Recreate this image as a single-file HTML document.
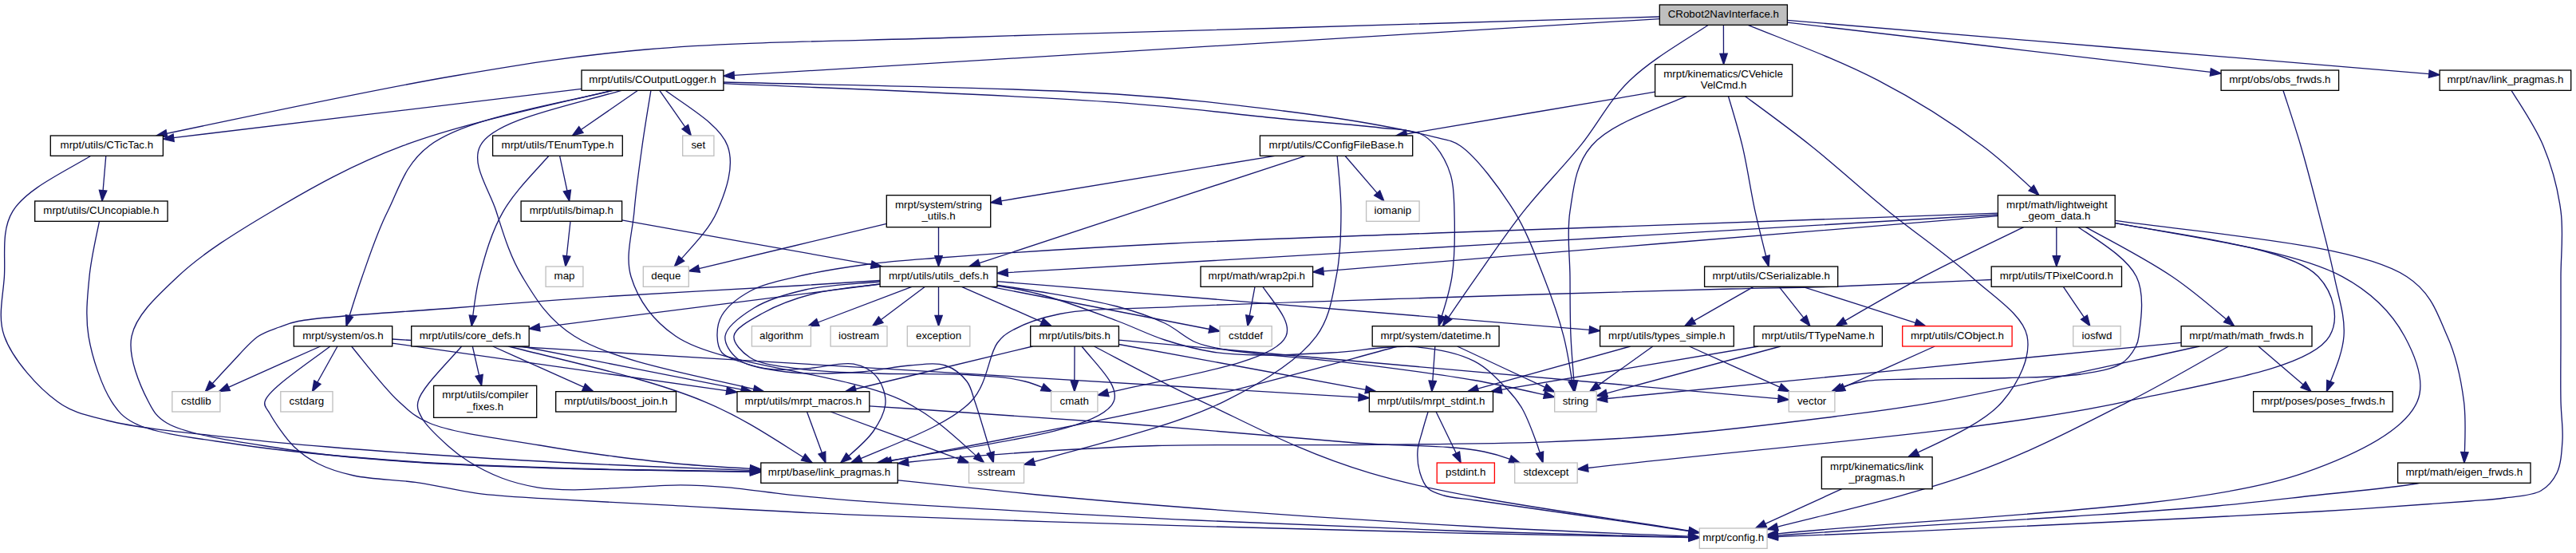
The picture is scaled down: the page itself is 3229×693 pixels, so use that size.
<!DOCTYPE html>
<html><head><meta charset="utf-8"><title>CRobot2NavInterface.h</title>
<style>html,body{margin:0;padding:0;background:#fff;}svg{display:block;}text{font-family:"Liberation Sans",sans-serif;font-size:13.333px;fill:#000;}</style></head><body>
<svg width="3229" height="693" viewBox="0 0 3229 693">
<rect x="0" y="0" width="3229" height="693" fill="#fff"/>
<path d="M2080.3,23.6C1693.6,47.2 1306.9,70.8 920.2,94.4" fill="none" stroke="#191970" stroke-width="1.33"/>
<polygon points="919.9,89.8 906.9,95.2 920.5,99.1" fill="#191970" stroke="#191970" stroke-width="1.33"/>
<path d="M2080.3,21.0C1920.7,25.8 1755.5,30.7 1610.0,35.0C1463.3,39.3 1334.9,42.4 1200.0,47.0C1068.4,51.5 924.1,52.0 810.0,62.0C720.1,69.9 661.6,79.5 570.0,95.0C466.8,112.4 334.2,141.3 208.9,167.3" fill="none" stroke="#191970" stroke-width="1.33"/>
<polygon points="208.0,162.7 195.9,170.0 209.9,171.9" fill="#191970" stroke="#191970" stroke-width="1.33"/>
<path d="M2160.4,31.3C2160.4,43.3 2160.5,55.4 2160.5,67.4" fill="none" stroke="#191970" stroke-width="1.33"/>
<polygon points="2155.9,67.4 2160.6,80.7 2165.2,67.3" fill="#191970" stroke="#191970" stroke-width="1.33"/>
<path d="M2141.5,31.3C2106.9,53.9 2069.3,75.4 2043.0,100.7C2016.6,126.1 2002.8,155.7 1981.0,182.7C1958.6,210.4 1932.0,236.8 1910.0,264.7C1888.8,291.5 1869.8,319.9 1851.0,346.7C1838.8,364.0 1827.3,380.8 1815.8,397.7" fill="none" stroke="#191970" stroke-width="1.33"/>
<polygon points="1812.0,395.0 1808.3,408.7 1819.7,400.3" fill="#191970" stroke="#191970" stroke-width="1.33"/>
<path d="M2191.1,31.3C2247.0,53.9 2305.7,75.5 2354.0,100.7C2403.1,126.2 2446.1,153.6 2485.0,182.7C2507.6,199.5 2526.9,217.5 2546.2,235.6" fill="none" stroke="#191970" stroke-width="1.33"/>
<polygon points="2543.0,239.0 2555.9,244.7 2549.3,232.1" fill="#191970" stroke="#191970" stroke-width="1.33"/>
<path d="M2240.4,25.4C2508.5,47.8 2776.7,70.2 3044.8,92.7" fill="none" stroke="#191970" stroke-width="1.33"/>
<polygon points="3044.4,97.3 3058.1,93.8 3045.2,88.0" fill="#191970" stroke="#191970" stroke-width="1.33"/>
<path d="M2240.4,28.1C2417.2,48.9 2594.1,69.7 2770.9,90.4" fill="none" stroke="#191970" stroke-width="1.33"/>
<polygon points="2770.3,95.1 2784.1,92.0 2771.4,85.8" fill="#191970" stroke="#191970" stroke-width="1.33"/>
<path d="M767.2,113.3C675.8,135.3 577.6,155.4 505.0,182.7C440.1,207.1 390.3,235.5 341.0,264.7C297.3,290.5 253.5,317.5 222.7,346.7C197.8,370.3 170.6,394.4 165.0,421.3C159.7,446.8 176.0,484.2 186.0,503.3C192.4,515.6 196.1,522.3 209.0,530.0C236.0,546.1 308.8,554.9 359.0,563.0C408.8,571.0 454.8,574.5 509.0,578.5C572.9,583.2 656.8,585.6 718.5,587.5C767.4,589.0 802.2,589.2 850.0,590.0C878.1,590.5 908.9,590.9 940.5,591.3" fill="none" stroke="#191970" stroke-width="1.33"/>
<polygon points="940.4,596.0 953.8,591.5 940.5,586.7" fill="#191970" stroke="#191970" stroke-width="1.33"/>
<path d="M779.1,113.3C708.3,133.9 618.9,150.5 602.0,182.7C589.8,205.9 613.4,237.6 622.0,264.7C630.8,292.3 639.1,321.2 654.7,346.7C671.2,373.7 686.0,399.8 720.0,421.3C766.9,451.1 860.4,468.1 944.9,487.6" fill="none" stroke="#191970" stroke-width="1.33"/>
<polygon points="943.8,492.2 957.8,490.7 945.9,483.1" fill="#191970" stroke="#191970" stroke-width="1.33"/>
<path d="M769.0,113.3C682.8,133.5 582.4,149.2 538.0,182.7C507.3,205.8 500.2,236.6 486.0,264.7C472.5,291.4 463.5,319.8 454.0,346.7C448.1,363.4 443.0,379.7 438.0,396.0" fill="none" stroke="#191970" stroke-width="1.33"/>
<polygon points="433.5,394.6 434.0,408.7 442.4,397.3" fill="#191970" stroke="#191970" stroke-width="1.33"/>
<path d="M906.9,104.7C1081.7,112.3 1276.2,119.4 1400.0,128.4C1487.2,134.8 1548.9,143.3 1609.0,149.0C1654.5,153.3 1697.5,156.2 1729.0,160.0C1749.6,162.5 1767.6,162.1 1780.0,167.5C1788.5,171.2 1793.3,175.8 1799.0,182.7C1806.5,191.8 1814.5,206.3 1818.5,219.6C1822.7,233.5 1822.5,247.4 1823.0,264.7C1823.7,288.0 1824.0,320.2 1820.0,346.7C1817.4,363.6 1812.4,379.8 1807.3,396.0" fill="none" stroke="#191970" stroke-width="1.33"/>
<polygon points="1802.8,394.6 1803.3,408.7 1811.7,397.3" fill="#191970" stroke="#191970" stroke-width="1.33"/>
<path d="M729.0,111.3C558.5,131.8 388.1,152.2 217.6,172.6" fill="none" stroke="#191970" stroke-width="1.33"/>
<polygon points="217.1,168.0 204.4,174.2 218.2,177.3" fill="#191970" stroke="#191970" stroke-width="1.33"/>
<path d="M799.6,113.3C775.8,129.7 752.0,146.1 728.3,162.5" fill="none" stroke="#191970" stroke-width="1.33"/>
<polygon points="725.7,158.6 717.3,170.0 731.0,166.3" fill="#191970" stroke="#191970" stroke-width="1.33"/>
<path d="M906.9,103.0C1081.7,107.2 1276.2,110.0 1400.0,118.0C1487.3,123.7 1549.0,131.5 1609.0,139.0C1654.6,144.7 1694.6,150.7 1729.0,157.0C1755.1,161.8 1779.0,166.6 1797.6,171.7C1810.7,175.3 1818.8,174.7 1830.5,182.7C1850.9,196.7 1880.2,236.1 1898.0,264.7C1914.3,291.0 1924.4,319.8 1935.0,346.7C1944.9,371.9 1953.4,395.6 1960.0,421.3C1964.7,439.5 1967.6,458.5 1970.6,477.5" fill="none" stroke="#191970" stroke-width="1.33"/>
<polygon points="1966.0,478.2 1972.8,490.7 1975.3,476.8" fill="#191970" stroke="#191970" stroke-width="1.33"/>
<path d="M826.8,113.3C837.5,128.6 848.1,143.8 858.8,159.1" fill="none" stroke="#191970" stroke-width="1.33"/>
<polygon points="855.0,161.8 866.4,170.0 862.6,156.4" fill="#191970" stroke="#191970" stroke-width="1.33"/>
<path d="M834.0,113.3C864.5,135.7 902.6,156.8 912.0,182.7C921.1,207.7 910.3,238.7 899.0,264.7C889.9,285.6 871.7,304.8 854.2,324.1" fill="none" stroke="#191970" stroke-width="1.33"/>
<polygon points="850.7,320.9 845.3,334.0 857.7,327.2" fill="#191970" stroke="#191970" stroke-width="1.33"/>
<path d="M815.9,113.3C812.2,136.4 808.2,159.5 805.0,182.7C801.2,210.0 797.3,237.3 795.0,264.7C792.7,292.0 783.2,321.3 791.0,346.7C799.3,373.8 815.8,399.9 847.0,421.3C902.7,459.7 1062.3,467.0 1134.0,503.3C1172.3,522.8 1196.9,547.4 1223.6,571.2" fill="none" stroke="#191970" stroke-width="1.33"/>
<polygon points="1220.5,574.7 1233.6,580.0 1226.6,567.7" fill="#191970" stroke="#191970" stroke-width="1.33"/>
<path d="M1125.3,601.8C1185.2,608.3 1245.2,614.8 1300.0,620.0C1371.0,626.7 1424.0,631.3 1500.0,637.0C1600.4,644.6 1735.7,653.6 1850.0,660.0C1940.7,665.0 2028.5,668.4 2117.0,672.2" fill="none" stroke="#191970" stroke-width="1.33"/>
<polygon points="2116.8,676.9 2130.3,672.8 2117.2,667.6" fill="#191970" stroke="#191970" stroke-width="1.33"/>
<path d="M1011.5,516.0C1017.8,533.2 1024.1,550.3 1030.4,567.5" fill="none" stroke="#191970" stroke-width="1.33"/>
<polygon points="1026.0,569.1 1034.9,580.0 1034.7,565.9" fill="#191970" stroke="#191970" stroke-width="1.33"/>
<path d="M1041.2,516.0C1094.9,535.8 1148.5,555.6 1202.2,575.4" fill="none" stroke="#191970" stroke-width="1.33"/>
<polygon points="1200.6,579.8 1214.7,580.0 1203.8,571.0" fill="#191970" stroke="#191970" stroke-width="1.33"/>
<path d="M1089.8,508.9C1195.5,515.8 1303.4,522.7 1400.0,530.0C1506.5,538.1 1614.6,548.6 1699.0,555.0C1760.9,559.7 1816.4,557.2 1860.0,566.0C1872.2,568.5 1882.7,571.7 1892.7,575.3" fill="none" stroke="#191970" stroke-width="1.33"/>
<polygon points="1891.0,579.6 1905.1,580.0 1894.3,570.9" fill="#191970" stroke="#191970" stroke-width="1.33"/>
<path d="M413.9,434.0C380.5,459.2 335.7,488.5 332.0,503.3C330.5,509.4 334.7,512.1 338.0,518.0C344.0,528.7 357.7,549.1 368.8,560.0C378.1,569.1 387.2,575.2 398.6,581.0C411.6,587.6 426.1,592.2 443.5,596.0C466.2,601.0 497.7,601.0 524.0,604.8C549.5,608.5 572.8,614.9 599.0,618.3C627.5,621.9 654.9,623.0 688.6,625.2C732.1,628.0 782.7,630.3 838.0,633.2C906.9,636.8 980.8,641.4 1070.0,645.2C1191.4,650.3 1364.0,655.4 1500.0,659.4C1622.7,663.0 1735.7,665.9 1850.0,668.5C1940.7,670.5 2028.5,672.0 2117.0,673.6" fill="none" stroke="#191970" stroke-width="1.33"/>
<polygon points="2116.9,678.3 2130.3,673.9 2117.1,669.0" fill="#191970" stroke="#191970" stroke-width="1.33"/>
<path d="M401.6,434.0C363.2,451.1 324.8,468.2 286.4,485.3" fill="none" stroke="#191970" stroke-width="1.33"/>
<polygon points="284.6,481.0 274.3,490.7 288.4,489.5" fill="#191970" stroke="#191970" stroke-width="1.33"/>
<path d="M423.0,434.0C414.6,449.0 406.3,464.0 397.9,479.0" fill="none" stroke="#191970" stroke-width="1.33"/>
<polygon points="393.8,476.7 391.4,490.7 402.0,481.3" fill="#191970" stroke="#191970" stroke-width="1.33"/>
<path d="M440.6,434.0C460.9,458.9 482.2,487.1 500.0,503.3C513.7,515.8 520.3,522.4 538.0,530.0C568.9,543.3 635.0,550.7 676.7,558.0C710.8,564.0 739.1,568.0 770.0,572.0C800.2,575.9 824.8,579.0 860.0,582.0C883.4,584.0 911.3,585.7 940.5,587.3" fill="none" stroke="#191970" stroke-width="1.33"/>
<polygon points="940.2,592.0 953.8,588.0 940.7,582.6" fill="#191970" stroke="#191970" stroke-width="1.33"/>
<path d="M491.7,425.0C895.5,449.3 1299.3,473.6 1703.1,497.9" fill="none" stroke="#191970" stroke-width="1.33"/>
<polygon points="1702.8,502.5 1716.4,498.7 1703.4,493.2" fill="#191970" stroke="#191970" stroke-width="1.33"/>
<path d="M491.7,430.1C631.4,450.0 771.1,469.8 910.8,489.7" fill="none" stroke="#191970" stroke-width="1.33"/>
<polygon points="910.1,494.3 924.0,491.5 911.5,485.1" fill="#191970" stroke="#191970" stroke-width="1.33"/>
<path d="M1790.1,516.0C1787.5,524.3 1785.0,532.7 1783.0,540.0C1780.6,549.1 1777.5,556.4 1777.0,565.0C1776.4,573.9 1777.5,584.5 1780.0,592.7C1782.2,599.9 1785.0,607.3 1790.0,612.0C1795.0,616.7 1802.0,618.6 1810.0,621.0C1820.9,624.2 1832.4,624.4 1850.0,627.0C1884.0,632.0 1956.4,642.2 2000.0,648.5C2033.8,653.4 2060.7,657.0 2090.0,661.5C2099.2,662.9 2108.2,664.3 2117.2,665.7" fill="none" stroke="#191970" stroke-width="1.33"/>
<polygon points="2116.4,670.3 2130.3,667.8 2117.9,661.1" fill="#191970" stroke="#191970" stroke-width="1.33"/>
<path d="M1800.1,516.0C1808.5,533.3 1816.9,550.7 1825.3,568.0" fill="none" stroke="#191970" stroke-width="1.33"/>
<polygon points="1821.1,570.0 1831.2,580.0 1829.5,566.0" fill="#191970" stroke="#191970" stroke-width="1.33"/>
<path d="M1752.2,434.0C1665.9,457.3 1583.4,481.1 1487.0,503.3C1374.8,529.2 1243.7,553.1 1117.2,577.5" fill="none" stroke="#191970" stroke-width="1.33"/>
<polygon points="1116.3,572.9 1104.1,580.0 1118.1,582.1" fill="#191970" stroke="#191970" stroke-width="1.33"/>
<path d="M1798.8,434.0C1797.8,448.5 1796.8,462.9 1795.8,477.4" fill="none" stroke="#191970" stroke-width="1.33"/>
<polygon points="1791.1,477.0 1794.8,490.7 1800.4,477.7" fill="#191970" stroke="#191970" stroke-width="1.33"/>
<path d="M1826.7,434.0C1863.4,451.1 1900.0,468.3 1936.7,485.4" fill="none" stroke="#191970" stroke-width="1.33"/>
<polygon points="1934.6,489.6 1948.7,491.1 1938.6,481.2" fill="#191970" stroke="#191970" stroke-width="1.33"/>
<path d="M114.0,195.3C76.9,217.3 32.5,237.5 16.0,264.7C1.1,289.2 7.1,319.9 5.4,346.7C3.8,372.1 -3.1,397.3 5.4,421.3C15.5,449.9 47.6,485.7 72.0,503.3C91.4,517.4 108.2,520.3 134.5,527.0C175.9,537.5 249.4,543.6 299.0,549.3C339.7,554.0 368.5,556.5 410.6,560.0C465.2,564.6 535.2,569.5 599.0,573.5C664.9,577.6 730.1,580.9 800.0,584.0C845.1,586.0 892.7,587.6 940.5,589.3" fill="none" stroke="#191970" stroke-width="1.33"/>
<polygon points="940.3,593.9 953.8,589.7 940.6,584.6" fill="#191970" stroke="#191970" stroke-width="1.33"/>
<path d="M132.8,195.3C131.5,209.8 130.3,224.3 129.1,238.7" fill="none" stroke="#191970" stroke-width="1.33"/>
<polygon points="124.4,238.3 128.0,252.0 133.8,239.1" fill="#191970" stroke="#191970" stroke-width="1.33"/>
<path d="M124.5,277.3C119.8,300.6 114.2,324.0 112.0,346.7C109.5,372.0 106.9,396.2 111.0,421.3C115.5,448.4 127.7,484.4 140.0,503.3C148.2,516.0 153.7,522.5 168.0,530.0C194.6,543.9 250.0,549.5 299.0,557.0C360.6,566.4 439.0,573.0 509.0,578.0C578.8,583.0 656.8,585.1 718.5,587.0C767.4,588.5 802.2,588.6 850.0,589.5C878.1,590.0 908.9,590.5 940.5,591.0" fill="none" stroke="#191970" stroke-width="1.33"/>
<polygon points="940.4,595.7 953.8,591.3 940.5,586.4" fill="#191970" stroke="#191970" stroke-width="1.33"/>
<path d="M688.0,195.3C667.7,218.1 645.0,240.3 631.0,264.7C616.0,290.8 608.0,319.6 601.0,346.7C596.8,363.1 594.8,379.3 592.8,395.5" fill="none" stroke="#191970" stroke-width="1.33"/>
<polygon points="588.2,394.9 591.2,408.7 597.5,396.0" fill="#191970" stroke="#191970" stroke-width="1.33"/>
<path d="M701.6,195.3C704.7,209.9 707.8,224.4 710.9,239.0" fill="none" stroke="#191970" stroke-width="1.33"/>
<polygon points="706.3,239.9 713.7,252.0 715.5,238.0" fill="#191970" stroke="#191970" stroke-width="1.33"/>
<path d="M578.7,434.0C556.7,458.9 527.6,487.1 524.0,503.3C522.1,511.9 525.0,516.7 529.0,524.0C535.0,535.1 552.3,550.4 563.0,560.0C571.4,567.5 577.6,572.2 587.0,578.0C598.7,585.3 614.3,593.5 628.8,599.0C643.2,604.5 658.6,608.3 673.7,610.8C688.5,613.2 702.5,613.6 718.5,613.8C736.9,614.0 757.0,612.3 778.0,611.4C801.6,610.4 829.4,607.8 853.0,607.8C874.1,607.8 891.8,609.0 912.8,610.8C936.4,612.8 962.0,617.1 987.6,619.8C1014.4,622.6 1031.8,624.5 1070.0,627.3C1157.2,633.8 1364.0,645.4 1500.0,652.0C1622.6,658.0 1735.7,662.2 1850.0,666.0C1940.7,669.0 2028.5,671.0 2117.0,673.2" fill="none" stroke="#191970" stroke-width="1.33"/>
<polygon points="2116.9,677.9 2130.3,673.6 2117.1,668.6" fill="#191970" stroke="#191970" stroke-width="1.33"/>
<path d="M592.3,434.0C595.1,446.1 597.9,458.2 600.6,470.4" fill="none" stroke="#191970" stroke-width="1.33"/>
<polygon points="596.1,471.4 603.6,483.3 605.2,469.3" fill="#191970" stroke="#191970" stroke-width="1.33"/>
<path d="M617.7,434.0C655.7,451.1 693.7,468.1 731.8,485.2" fill="none" stroke="#191970" stroke-width="1.33"/>
<polygon points="729.8,489.5 743.9,490.7 733.6,480.9" fill="#191970" stroke="#191970" stroke-width="1.33"/>
<path d="M653.9,434.0C745.7,452.0 837.6,470.1 929.4,488.1" fill="none" stroke="#191970" stroke-width="1.33"/>
<polygon points="928.4,492.7 942.4,490.7 930.2,483.5" fill="#191970" stroke="#191970" stroke-width="1.33"/>
<path d="M637.4,434.0C723.1,455.7 815.0,474.9 883.0,503.3C931.8,523.7 968.3,548.8 1006.9,573.0" fill="none" stroke="#191970" stroke-width="1.33"/>
<polygon points="1004.4,576.9 1018.2,580.0 1009.3,569.0" fill="#191970" stroke="#191970" stroke-width="1.33"/>
<path d="M779.6,275.9C883.8,294.5 988.1,313.1 1092.3,331.7" fill="none" stroke="#191970" stroke-width="1.33"/>
<polygon points="1091.5,336.3 1105.4,334.0 1093.1,327.1" fill="#191970" stroke="#191970" stroke-width="1.33"/>
<path d="M715.0,277.3C713.4,291.8 711.9,306.3 710.3,320.8" fill="none" stroke="#191970" stroke-width="1.33"/>
<polygon points="705.7,320.2 708.9,334.0 714.9,321.2" fill="#191970" stroke="#191970" stroke-width="1.33"/>
<path d="M1103.1,356.0C960.9,374.1 818.6,392.2 676.4,410.3" fill="none" stroke="#191970" stroke-width="1.33"/>
<polygon points="675.8,405.6 663.2,412.0 677.0,414.9" fill="#191970" stroke="#191970" stroke-width="1.33"/>
<path d="M1241.8,359.3C1333.2,377.0 1424.6,394.8 1515.9,412.5" fill="none" stroke="#191970" stroke-width="1.33"/>
<polygon points="1515.0,417.1 1529.0,415.0 1516.8,407.9" fill="#191970" stroke="#191970" stroke-width="1.33"/>
<path d="M1103.1,351.5C1069.8,353.6 1036.2,355.8 1000.0,358.0C928.4,362.3 844.2,366.2 770.0,371.0C700.5,375.5 634.6,380.7 568.0,386.0C502.7,391.2 407.5,395.9 374.0,402.5C362.0,404.9 358.1,407.0 350.0,410.0C341.4,413.2 332.7,415.4 324.0,421.3C312.7,429.0 301.9,442.6 290.0,455.0C282.4,462.9 274.4,471.8 266.2,480.8" fill="none" stroke="#191970" stroke-width="1.33"/>
<polygon points="262.8,477.6 257.3,490.7 269.7,483.9" fill="#191970" stroke="#191970" stroke-width="1.33"/>
<path d="M1103.1,356.0C1103.1,356.0 1103.0,356.0 1103.0,356.0C1076.2,359.6 1045.4,361.4 1020.0,368.0C997.2,373.9 974.6,382.1 957.0,392.0C942.3,400.3 921.4,410.8 920.0,421.0C918.8,429.6 929.9,441.4 940.0,448.0C953.7,457.0 977.3,458.7 1000.0,462.0C1028.9,466.2 1065.3,466.7 1100.0,468.0C1137.5,469.4 1183.3,467.7 1217.0,470.0C1242.8,471.7 1263.2,472.4 1285.0,478.0C1292.3,479.9 1299.4,482.5 1306.4,485.3" fill="none" stroke="#191970" stroke-width="1.33"/>
<polygon points="1304.5,489.6 1318.6,490.7 1308.3,481.0" fill="#191970" stroke="#191970" stroke-width="1.33"/>
<path d="M1143.1,359.3C1103.8,374.2 1064.5,389.1 1025.3,404.0" fill="none" stroke="#191970" stroke-width="1.33"/>
<polygon points="1023.6,399.6 1012.8,408.7 1027.0,408.3" fill="#191970" stroke="#191970" stroke-width="1.33"/>
<path d="M1159.5,359.3C1141.1,373.1 1122.6,386.9 1104.2,400.7" fill="none" stroke="#191970" stroke-width="1.33"/>
<polygon points="1101.4,396.9 1093.5,408.7 1107.0,404.4" fill="#191970" stroke="#191970" stroke-width="1.33"/>
<path d="M1103.1,353.0C1103.1,353.0 1103.0,353.0 1103.0,353.0C1073.8,355.8 1037.9,356.7 1010.0,363.0C986.0,368.4 962.6,375.1 945.0,386.0C930.0,395.3 910.8,409.2 909.0,421.0C907.6,430.6 915.8,442.8 925.0,450.0C937.7,459.9 962.5,463.1 985.0,466.0C1012.8,469.6 1052.0,467.9 1080.0,466.0C1102.3,464.5 1121.4,459.2 1140.0,458.0C1156.0,456.9 1172.5,453.9 1185.0,458.0C1195.8,461.6 1205.8,469.9 1212.0,478.0C1217.6,485.3 1218.6,493.6 1222.0,503.3C1226.5,516.0 1231.5,533.1 1236.0,548.0C1237.9,554.4 1239.8,560.8 1241.7,567.2" fill="none" stroke="#191970" stroke-width="1.33"/>
<polygon points="1237.2,568.5 1245.3,580.0 1246.1,565.9" fill="#191970" stroke="#191970" stroke-width="1.33"/>
<path d="M1176.5,359.3C1176.5,371.3 1176.5,383.4 1176.5,395.4" fill="none" stroke="#191970" stroke-width="1.33"/>
<polygon points="1171.9,395.3 1176.5,408.7 1181.2,395.3" fill="#191970" stroke="#191970" stroke-width="1.33"/>
<path d="M1249.9,358.0C1267.1,360.8 1284.0,363.9 1300.0,368.0C1335.5,377.0 1371.0,391.3 1400.0,402.0C1422.7,410.4 1439.8,419.5 1460.0,426.0C1479.8,432.4 1499.9,437.8 1520.0,441.0C1539.6,444.1 1557.3,444.6 1579.0,445.0C1605.8,445.5 1637.9,443.6 1669.0,442.0C1702.7,440.3 1742.2,432.0 1774.0,434.7C1801.0,437.0 1827.8,442.3 1848.0,452.6C1865.2,461.4 1879.4,477.3 1890.0,488.5C1897.8,496.7 1902.6,502.7 1908.0,512.0C1914.5,523.2 1920.0,538.5 1925.0,552.0C1926.9,557.1 1928.6,562.2 1930.2,567.3" fill="none" stroke="#191970" stroke-width="1.33"/>
<polygon points="1925.7,568.6 1934.1,580.0 1934.6,565.9" fill="#191970" stroke="#191970" stroke-width="1.33"/>
<path d="M1205.4,359.3C1238.9,374.0 1272.4,388.7 1305.9,403.3" fill="none" stroke="#191970" stroke-width="1.33"/>
<polygon points="1304.0,407.6 1318.1,408.7 1307.8,399.0" fill="#191970" stroke="#191970" stroke-width="1.33"/>
<path d="M1249.9,352.7C1497.4,372.9 1744.9,393.2 1992.3,413.4" fill="none" stroke="#191970" stroke-width="1.33"/>
<polygon points="1991.9,418.0 2005.6,414.5 1992.7,408.7" fill="#191970" stroke="#191970" stroke-width="1.33"/>
<path d="M1249.9,357.2C1267.0,359.7 1283.9,362.3 1300.0,365.0C1335.2,370.9 1371.1,376.3 1400.0,384.0C1422.8,390.1 1442.5,396.7 1460.0,405.0C1474.8,412.1 1485.8,423.5 1499.0,429.0C1510.9,434.0 1518.5,435.1 1535.0,438.0C1569.7,444.2 1645.7,449.0 1699.0,455.6C1749.9,461.9 1800.5,468.2 1848.0,476.5C1878.4,481.8 1907.0,488.3 1935.7,494.7" fill="none" stroke="#191970" stroke-width="1.33"/>
<polygon points="1934.7,499.3 1948.7,497.6 1936.7,490.2" fill="#191970" stroke="#191970" stroke-width="1.33"/>
<path d="M1294.5,434.0C1220.5,451.8 1146.4,469.7 1072.4,487.5" fill="none" stroke="#191970" stroke-width="1.33"/>
<polygon points="1071.3,483.0 1059.4,490.7 1073.5,492.1" fill="#191970" stroke="#191970" stroke-width="1.33"/>
<path d="M1356.0,434.0C1375.0,458.0 1404.2,483.6 1396.0,503.3C1380.5,540.6 1231.6,556.7 1112.8,577.7" fill="none" stroke="#191970" stroke-width="1.33"/>
<polygon points="1112.0,573.0 1099.7,580.0 1113.6,582.2" fill="#191970" stroke="#191970" stroke-width="1.33"/>
<path d="M1371.5,434.0C1415.7,457.2 1458.4,480.6 1507.0,503.3C1571.7,533.7 1631.9,567.3 1717.0,592.7C1823.8,624.5 1978.1,642.7 2117.2,665.2" fill="none" stroke="#191970" stroke-width="1.33"/>
<polygon points="2116.4,669.8 2130.3,667.4 2117.9,660.6" fill="#191970" stroke="#191970" stroke-width="1.33"/>
<path d="M1347.0,434.0C1347.0,448.5 1346.9,462.9 1346.8,477.4" fill="none" stroke="#191970" stroke-width="1.33"/>
<polygon points="1342.2,477.3 1346.8,490.7 1351.5,477.4" fill="#191970" stroke="#191970" stroke-width="1.33"/>
<path d="M1402.4,431.5C1505.5,450.4 1608.7,469.3 1711.8,488.3" fill="none" stroke="#191970" stroke-width="1.33"/>
<polygon points="1711.0,492.9 1724.9,490.7 1712.6,483.7" fill="#191970" stroke="#191970" stroke-width="1.33"/>
<path d="M1402.4,426.2C1678.0,450.7 1953.5,475.1 2229.1,499.6" fill="none" stroke="#191970" stroke-width="1.33"/>
<polygon points="2228.6,504.3 2242.3,500.8 2229.4,494.9" fill="#191970" stroke="#191970" stroke-width="1.33"/>
<path d="M2117.5,434.0C2155.3,451.1 2193.1,468.1 2230.9,485.2" fill="none" stroke="#191970" stroke-width="1.33"/>
<polygon points="2229.0,489.4 2243.0,490.7 2232.8,480.9" fill="#191970" stroke="#191970" stroke-width="1.33"/>
<path d="M2071.8,434.0C2049.0,450.3 2026.2,466.6 2003.4,482.9" fill="none" stroke="#191970" stroke-width="1.33"/>
<polygon points="2000.8,479.1 1992.6,490.7 2006.2,486.7" fill="#191970" stroke="#191970" stroke-width="1.33"/>
<path d="M2043.8,434.0C1980.0,451.7 1916.2,469.4 1852.4,487.1" fill="none" stroke="#191970" stroke-width="1.33"/>
<polygon points="1851.2,482.6 1839.6,490.7 1853.7,491.6" fill="#191970" stroke="#191970" stroke-width="1.33"/>
<path d="M2166.5,120.7C2172.7,141.3 2179.0,161.9 2184.0,182.7C2190.5,209.9 2194.0,237.4 2200.0,264.7C2204.2,283.5 2209.0,302.3 2213.7,321.1" fill="none" stroke="#191970" stroke-width="1.33"/>
<polygon points="2209.2,322.2 2217.0,334.0 2218.2,319.9" fill="#191970" stroke="#191970" stroke-width="1.33"/>
<path d="M2074.6,115.2C1970.8,132.7 1867.0,150.3 1763.2,167.8" fill="none" stroke="#191970" stroke-width="1.33"/>
<polygon points="1762.4,163.2 1750.1,170.0 1764.0,172.4" fill="#191970" stroke="#191970" stroke-width="1.33"/>
<path d="M2187.6,120.7C2215.5,141.2 2243.6,161.6 2270.0,182.7C2303.7,209.5 2333.9,237.6 2367.0,264.7C2400.8,292.3 2440.7,318.8 2471.0,346.7C2497.7,371.2 2535.6,394.0 2541.0,421.3C2546.0,446.6 2531.1,478.7 2510.0,503.3C2488.8,528.1 2445.8,547.4 2403.9,567.0" fill="none" stroke="#191970" stroke-width="1.33"/>
<polygon points="2402.0,562.8 2391.9,572.7 2406.0,571.2" fill="#191970" stroke="#191970" stroke-width="1.33"/>
<path d="M2114.3,120.7C2067.5,139.2 2017.5,156.8 1995.0,182.7C1974.3,206.5 1972.4,237.0 1968.0,264.7C1963.7,291.7 1967.8,320.0 1968.0,346.7C1968.2,372.1 1967.9,395.9 1969.0,421.3C1969.8,439.6 1971.4,458.5 1972.9,477.4" fill="none" stroke="#191970" stroke-width="1.33"/>
<polygon points="1968.3,477.8 1974.0,490.7 1977.6,477.0" fill="#191970" stroke="#191970" stroke-width="1.33"/>
<path d="M2259.7,359.3C2306.9,374.4 2354.0,389.5 2401.2,404.6" fill="none" stroke="#191970" stroke-width="1.33"/>
<polygon points="2399.7,409.1 2413.8,408.7 2402.6,400.2" fill="#191970" stroke="#191970" stroke-width="1.33"/>
<path d="M2230.1,359.3C2240.4,372.3 2250.6,385.3 2260.8,398.2" fill="none" stroke="#191970" stroke-width="1.33"/>
<polygon points="2257.1,401.1 2269.0,408.7 2264.4,395.3" fill="#191970" stroke="#191970" stroke-width="1.33"/>
<path d="M2198.0,359.3C2173.0,373.6 2148.1,387.8 2123.2,402.1" fill="none" stroke="#191970" stroke-width="1.33"/>
<polygon points="2120.9,398.0 2111.6,408.7 2125.5,406.1" fill="#191970" stroke="#191970" stroke-width="1.33"/>
<path d="M2425.2,434.0C2387.3,451.1 2349.3,468.1 2311.4,485.2" fill="none" stroke="#191970" stroke-width="1.33"/>
<polygon points="2309.5,480.9 2299.3,490.7 2313.3,489.5" fill="#191970" stroke="#191970" stroke-width="1.33"/>
<path d="M2204.1,434.0C2096.7,452.1 1989.4,470.3 1882.0,488.4" fill="none" stroke="#191970" stroke-width="1.33"/>
<polygon points="1881.2,483.8 1868.9,490.7 1882.8,493.0" fill="#191970" stroke="#191970" stroke-width="1.33"/>
<path d="M2232.0,434.0C2159.4,453.6 2086.7,473.2 2014.0,492.8" fill="none" stroke="#191970" stroke-width="1.33"/>
<polygon points="2012.9,488.3 2001.2,496.3 2015.3,497.3" fill="#191970" stroke="#191970" stroke-width="1.33"/>
<path d="M1636.4,195.3C1565.9,218.4 1495.4,241.5 1425.0,264.7C1359.1,286.4 1293.3,308.1 1227.5,329.8" fill="none" stroke="#191970" stroke-width="1.33"/>
<polygon points="1226.1,325.4 1214.9,334.0 1229.0,334.3" fill="#191970" stroke="#191970" stroke-width="1.33"/>
<path d="M1598.0,195.3C1483.6,214.2 1369.2,233.0 1254.8,251.8" fill="none" stroke="#191970" stroke-width="1.33"/>
<polygon points="1254.1,247.2 1241.7,253.9 1255.6,256.4" fill="#191970" stroke="#191970" stroke-width="1.33"/>
<path d="M1676.1,195.3C1678.2,218.4 1681.0,241.6 1681.0,264.7C1681.0,292.0 1680.3,320.3 1675.0,346.7C1669.8,372.5 1667.1,398.4 1650.0,421.3C1627.1,452.2 1583.6,478.8 1534.0,503.3C1473.6,533.2 1380.7,554.9 1296.3,578.7" fill="none" stroke="#191970" stroke-width="1.33"/>
<polygon points="1295.0,574.2 1283.5,582.3 1297.6,583.2" fill="#191970" stroke="#191970" stroke-width="1.33"/>
<path d="M1686.0,195.3C1699.4,210.9 1712.8,226.4 1726.2,241.9" fill="none" stroke="#191970" stroke-width="1.33"/>
<polygon points="1722.7,245.0 1734.9,252.0 1729.7,238.9" fill="#191970" stroke="#191970" stroke-width="1.33"/>
<path d="M1176.5,284.7C1176.5,296.7 1176.5,308.7 1176.5,320.7" fill="none" stroke="#191970" stroke-width="1.33"/>
<polygon points="1171.8,320.7 1176.5,334.0 1181.2,320.7" fill="#191970" stroke="#191970" stroke-width="1.33"/>
<path d="M1111.3,280.3C1032.9,299.1 954.6,317.9 876.2,336.7" fill="none" stroke="#191970" stroke-width="1.33"/>
<polygon points="875.2,332.2 863.3,339.8 877.4,341.3" fill="#191970" stroke="#191970" stroke-width="1.33"/>
<path d="M2308.8,612.7C2276.8,627.3 2244.7,641.9 2212.6,656.5" fill="none" stroke="#191970" stroke-width="1.33"/>
<polygon points="2210.7,652.2 2200.5,662.0 2214.6,660.7" fill="#191970" stroke="#191970" stroke-width="1.33"/>
<path d="M2651.2,279.4C2757.8,298.8 2877.0,314.9 2936.0,346.7C2975.6,368.0 2998.6,393.2 3014.0,421.3C3027.5,446.1 3040.7,478.6 3030.0,503.3C3014.8,538.4 2957.4,568.3 2888.0,592.7C2755.1,639.3 2460.5,646.4 2228.3,668.8" fill="none" stroke="#191970" stroke-width="1.33"/>
<polygon points="2227.9,664.2 2215.1,670.1 2228.8,673.5" fill="#191970" stroke="#191970" stroke-width="1.33"/>
<path d="M2504.4,267.2C2261.2,275.7 1985.6,285.1 1800.0,292.0C1666.8,297.0 1576.6,299.6 1470.0,305.0C1369.7,310.1 1247.2,317.8 1178.0,323.0C1139.7,325.9 1118.7,327.1 1089.0,331.0C1059.0,335.0 1025.7,340.3 999.0,346.7C977.1,352.0 956.4,356.0 940.0,365.0C925.9,372.8 911.5,384.2 905.0,395.0C900.0,403.2 898.8,412.8 899.0,421.0C899.2,428.4 900.6,436.7 905.0,442.0C909.7,447.6 918.3,449.8 927.0,453.0C938.6,457.2 954.7,461.5 969.0,463.0C983.6,464.5 998.2,462.6 1014.0,461.6C1031.7,460.5 1054.9,453.3 1070.0,456.2C1081.2,458.4 1091.0,463.1 1097.6,470.6C1104.6,478.5 1110.1,492.1 1110.0,503.3C1109.8,515.2 1103.5,527.6 1095.0,540.0C1088.0,550.3 1076.1,560.8 1063.8,571.4" fill="none" stroke="#191970" stroke-width="1.33"/>
<polygon points="1060.8,567.8 1053.7,580.0 1066.9,574.9" fill="#191970" stroke="#191970" stroke-width="1.33"/>
<path d="M2504.4,269.0C2090.7,293.2 1676.9,317.4 1263.2,341.6" fill="none" stroke="#191970" stroke-width="1.33"/>
<polygon points="1262.9,336.9 1249.9,342.4 1263.5,346.3" fill="#191970" stroke="#191970" stroke-width="1.33"/>
<path d="M2577.8,284.7C2577.8,296.7 2577.8,308.7 2577.8,320.7" fill="none" stroke="#191970" stroke-width="1.33"/>
<polygon points="2573.2,320.7 2577.8,334.0 2582.5,320.7" fill="#191970" stroke="#191970" stroke-width="1.33"/>
<path d="M2536.6,284.7C2493.7,305.3 2450.3,325.9 2411.0,346.7C2376.2,365.1 2344.6,383.5 2312.7,402.0" fill="none" stroke="#191970" stroke-width="1.33"/>
<polygon points="2310.4,398.0 2301.2,408.7 2315.0,406.0" fill="#191970" stroke="#191970" stroke-width="1.33"/>
<path d="M2614.4,284.7C2652.3,305.0 2691.3,325.2 2723.0,346.7C2748.5,363.9 2769.3,382.0 2790.5,400.1" fill="none" stroke="#191970" stroke-width="1.33"/>
<polygon points="2787.5,403.6 2800.7,408.7 2793.5,396.5" fill="#191970" stroke="#191970" stroke-width="1.33"/>
<path d="M2651.2,276.3C2789.9,295.4 2956.9,307.3 3017.0,346.7C3049.0,367.6 3055.6,394.8 3067.6,421.3C3079.2,447.1 3084.9,475.2 3088.5,503.3C3091.1,523.9 3090.1,545.3 3089.4,566.7" fill="none" stroke="#191970" stroke-width="1.33"/>
<polygon points="3084.7,566.5 3088.9,580.0 3094.0,566.8" fill="#191970" stroke="#191970" stroke-width="1.33"/>
<path d="M2504.4,270.7C2222.6,293.7 1940.7,316.8 1658.9,339.8" fill="none" stroke="#191970" stroke-width="1.33"/>
<polygon points="1658.5,335.2 1645.6,340.9 1659.3,344.5" fill="#191970" stroke="#191970" stroke-width="1.33"/>
<path d="M2605.3,284.7C2634.7,304.5 2666.6,323.9 2678.0,346.7C2689.5,369.8 2682.8,406.6 2681.0,421.3C2680.2,427.7 2679.6,430.0 2677.0,434.7C2673.4,441.3 2667.6,450.2 2659.0,455.6C2647.1,463.1 2627.6,466.0 2608.0,469.0C2582.5,472.9 2550.5,472.5 2518.5,473.5C2481.6,474.7 2432.0,474.1 2399.0,475.0C2375.6,475.6 2355.5,475.1 2339.0,477.5C2327.2,479.2 2319.4,481.2 2309.0,485.0C2308.7,485.1 2308.4,485.2 2308.1,485.3" fill="none" stroke="#191970" stroke-width="1.33"/>
<polygon points="2306.3,481.0 2295.9,490.7 2310.0,489.6" fill="#191970" stroke="#191970" stroke-width="1.33"/>
<path d="M2651.2,279.7C2753.6,297.6 2872.7,311.3 2906.0,346.7C2925.8,367.7 2932.7,400.0 2920.0,421.3C2896.1,461.4 2772.5,479.5 2664.0,503.3C2497.7,539.9 2222.7,559.9 1990.4,586.5" fill="none" stroke="#191970" stroke-width="1.33"/>
<polygon points="1989.9,581.8 1977.2,588.0 1991.0,591.1" fill="#191970" stroke="#191970" stroke-width="1.33"/>
<path d="M2586.4,359.3C2595.1,372.1 2603.7,384.9 2612.4,397.7" fill="none" stroke="#191970" stroke-width="1.33"/>
<polygon points="2608.5,400.3 2619.9,408.7 2616.3,395.0" fill="#191970" stroke="#191970" stroke-width="1.33"/>
<path d="M2496.2,350.5C2427.0,353.8 2356.6,357.2 2303.0,359.0C2250.7,360.8 2225.4,360.6 2170.0,362.0C2077.5,364.4 1919.8,369.1 1800.0,373.0C1686.8,376.7 1557.1,380.3 1470.0,384.6C1412.8,387.4 1364.9,386.0 1328.0,393.5C1303.3,398.5 1281.7,406.6 1268.0,414.5C1259.6,419.3 1256.0,422.0 1250.0,430.0C1239.0,444.8 1238.4,481.0 1217.0,503.3C1190.4,531.1 1131.6,552.3 1078.9,574.7" fill="none" stroke="#191970" stroke-width="1.33"/>
<polygon points="1077.0,570.4 1066.6,580.0 1080.7,579.0" fill="#191970" stroke="#191970" stroke-width="1.33"/>
<path d="M2793.5,434.0C2752.5,457.2 2713.0,480.5 2668.0,503.3C2608.2,533.6 2547.0,566.1 2474.0,592.7C2401.7,619.0 2312.9,638.9 2228.0,660.3" fill="none" stroke="#191970" stroke-width="1.33"/>
<polygon points="2226.9,655.7 2215.1,663.5 2229.2,664.8" fill="#191970" stroke="#191970" stroke-width="1.33"/>
<path d="M2757.1,434.0C2640.3,459.3 2509.7,488.9 2429.0,503.3C2374.7,513.0 2347.7,515.9 2300.0,522.0C2240.7,529.6 2163.2,539.1 2100.0,544.5C2043.2,549.3 1997.2,551.6 1938.0,553.8C1866.3,556.4 1780.3,556.7 1700.0,557.5C1617.7,558.3 1522.7,556.5 1450.0,558.5C1393.6,560.0 1350.8,562.7 1300.0,566.0C1247.5,569.4 1187.1,573.9 1140.0,579.0C1139.5,579.1 1139.0,579.1 1138.5,579.2" fill="none" stroke="#191970" stroke-width="1.33"/>
<polygon points="1138.0,574.5 1125.3,580.7 1139.1,583.8" fill="#191970" stroke="#191970" stroke-width="1.33"/>
<path d="M2830.9,434.0C2849.6,450.0 2868.3,466.0 2887.0,482.0" fill="none" stroke="#191970" stroke-width="1.33"/>
<polygon points="2884.0,485.6 2897.1,490.7 2890.0,478.5" fill="#191970" stroke="#191970" stroke-width="1.33"/>
<path d="M2734.1,429.3C2494.2,452.7 2254.3,476.1 2014.4,499.5" fill="none" stroke="#191970" stroke-width="1.33"/>
<polygon points="2014.0,494.8 2001.2,500.8 2014.9,504.1" fill="#191970" stroke="#191970" stroke-width="1.33"/>
<path d="M1573.0,359.3C1570.8,371.4 1568.5,383.5 1566.3,395.6" fill="none" stroke="#191970" stroke-width="1.33"/>
<polygon points="1561.7,394.7 1563.9,408.7 1570.9,396.4" fill="#191970" stroke="#191970" stroke-width="1.33"/>
<path d="M1582.9,359.3C1597.6,380.8 1619.7,403.5 1612.0,421.3C1597.6,454.8 1478.3,471.0 1388.8,492.1" fill="none" stroke="#191970" stroke-width="1.33"/>
<polygon points="1387.7,487.6 1375.9,495.3 1390.0,496.7" fill="#191970" stroke="#191970" stroke-width="1.33"/>
<path d="M3033.5,605.3C3032.3,605.6 3031.0,605.8 3029.7,606.0C2995.0,611.9 2942.4,616.3 2900.0,621.0C2859.2,625.6 2823.8,630.0 2779.7,634.0C2725.8,638.9 2661.5,642.9 2600.0,647.0C2535.1,651.4 2468.8,655.0 2400.0,659.4C2344.5,663.0 2286.3,667.0 2228.4,670.9" fill="none" stroke="#191970" stroke-width="1.33"/>
<polygon points="2228.1,666.2 2215.1,671.8 2228.7,675.6" fill="#191970" stroke="#191970" stroke-width="1.33"/>
<path d="M3148.0,113.3C3162.3,136.3 3178.1,158.9 3188.0,182.7C3199.1,209.3 3206.4,237.1 3210.0,264.7C3213.6,291.8 3210.0,320.0 3210.0,346.7C3210.0,372.1 3210.0,395.9 3210.0,421.3C3210.0,448.0 3209.5,479.5 3210.0,503.3C3210.4,521.7 3213.0,536.6 3212.0,552.0C3211.1,566.2 3210.3,581.7 3205.0,592.7C3200.5,602.0 3194.1,609.8 3185.0,615.0C3173.7,621.4 3155.0,621.8 3140.0,624.0C3125.3,626.1 3115.8,626.4 3096.0,628.0C3054.9,631.3 2974.1,636.9 2906.0,641.0C2827.0,645.7 2734.8,649.9 2650.0,654.0C2566.2,658.1 2481.4,662.2 2400.0,665.7C2341.5,668.2 2285.1,670.3 2228.4,672.5" fill="none" stroke="#191970" stroke-width="1.33"/>
<polygon points="2228.2,667.8 2215.1,673.0 2228.6,677.2" fill="#191970" stroke="#191970" stroke-width="1.33"/>
<path d="M2861.9,113.3C2869.4,136.4 2877.2,159.5 2884.0,182.7C2892.0,209.9 2899.0,237.3 2906.0,264.7C2913.0,292.0 2920.6,319.9 2926.0,346.7C2931.1,372.0 2939.9,396.1 2938.0,421.3C2936.6,440.1 2928.8,459.2 2921.2,478.3" fill="none" stroke="#191970" stroke-width="1.33"/>
<polygon points="2916.8,476.5 2916.4,490.7 2925.5,479.9" fill="#191970" stroke="#191970" stroke-width="1.33"/>
<rect x="2080.30" y="6.00" width="160.10" height="25.33" fill="#bfbfbf" stroke="#000" stroke-width="1.33"/>
<text text-anchor="middle" x="2160.35" y="22.00">CRobot2NavInterface.h</text>
<rect x="729.00" y="88.00" width="177.90" height="25.33" fill="#fff" stroke="#000" stroke-width="1.33"/>
<text text-anchor="middle" x="817.95" y="104.00">mrpt/utils/COutputLogger.h</text>
<rect x="2074.60" y="80.67" width="172.10" height="40.00" fill="#fff" stroke="#000" stroke-width="1.33"/>
<text x="2085.27" y="96.67">mrpt/kinematics/CVehicle</text>
<text text-anchor="middle" x="2160.65" y="111.34">VelCmd.h</text>
<rect x="2784.10" y="88.00" width="147.50" height="25.33" fill="#fff" stroke="#000" stroke-width="1.33"/>
<text text-anchor="middle" x="2857.85" y="104.00">mrpt/obs/obs_frwds.h</text>
<rect x="3058.10" y="88.00" width="164.60" height="25.33" fill="#fff" stroke="#000" stroke-width="1.33"/>
<text text-anchor="middle" x="3140.40" y="104.00">mrpt/nav/link_pragmas.h</text>
<rect x="63.30" y="170.00" width="141.10" height="25.33" fill="#fff" stroke="#000" stroke-width="1.33"/>
<text text-anchor="middle" x="133.85" y="186.00">mrpt/utils/CTicTac.h</text>
<rect x="617.60" y="170.00" width="162.70" height="25.33" fill="#fff" stroke="#000" stroke-width="1.33"/>
<text text-anchor="middle" x="698.95" y="186.00">mrpt/utils/TEnumType.h</text>
<rect x="855.70" y="170.00" width="39.20" height="25.33" fill="#fff" stroke="#bfbfbf" stroke-width="1.33"/>
<text text-anchor="middle" x="875.30" y="186.00">set</text>
<rect x="1579.40" y="170.00" width="191.30" height="25.33" fill="#fff" stroke="#000" stroke-width="1.33"/>
<text text-anchor="middle" x="1675.05" y="186.00">mrpt/utils/CConfigFileBase.h</text>
<rect x="43.70" y="252.00" width="166.40" height="25.33" fill="#fff" stroke="#000" stroke-width="1.33"/>
<text text-anchor="middle" x="126.90" y="268.00">mrpt/utils/CUncopiable.h</text>
<rect x="653.10" y="252.00" width="126.50" height="25.33" fill="#fff" stroke="#000" stroke-width="1.33"/>
<text text-anchor="middle" x="716.35" y="268.00">mrpt/utils/bimap.h</text>
<rect x="1111.30" y="244.67" width="130.40" height="40.00" fill="#fff" stroke="#000" stroke-width="1.33"/>
<text x="1121.97" y="260.67">mrpt/system/string</text>
<text text-anchor="middle" x="1176.50" y="275.34">_utils.h</text>
<rect x="1712.60" y="252.00" width="66.50" height="25.33" fill="#fff" stroke="#bfbfbf" stroke-width="1.33"/>
<text text-anchor="middle" x="1745.85" y="268.00">iomanip</text>
<rect x="2504.40" y="244.67" width="146.80" height="40.00" fill="#fff" stroke="#000" stroke-width="1.33"/>
<text x="2515.07" y="260.67">mrpt/math/lightweight</text>
<text text-anchor="middle" x="2577.80" y="275.34">_geom_data.h</text>
<rect x="684.10" y="334.00" width="46.80" height="25.33" fill="#fff" stroke="#bfbfbf" stroke-width="1.33"/>
<text text-anchor="middle" x="707.50" y="350.00">map</text>
<rect x="806.30" y="334.00" width="57.00" height="25.33" fill="#fff" stroke="#bfbfbf" stroke-width="1.33"/>
<text text-anchor="middle" x="834.80" y="350.00">deque</text>
<rect x="1103.10" y="334.00" width="146.80" height="25.33" fill="#fff" stroke="#000" stroke-width="1.33"/>
<text text-anchor="middle" x="1176.50" y="350.00">mrpt/utils/utils_defs.h</text>
<rect x="1505.00" y="334.00" width="140.60" height="25.33" fill="#fff" stroke="#000" stroke-width="1.33"/>
<text text-anchor="middle" x="1575.30" y="350.00">mrpt/math/wrap2pi.h</text>
<rect x="2136.60" y="334.00" width="167.10" height="25.33" fill="#fff" stroke="#000" stroke-width="1.33"/>
<text text-anchor="middle" x="2220.15" y="350.00">mrpt/utils/CSerializable.h</text>
<rect x="2496.20" y="334.00" width="163.30" height="25.33" fill="#fff" stroke="#000" stroke-width="1.33"/>
<text text-anchor="middle" x="2577.85" y="350.00">mrpt/utils/TPixelCoord.h</text>
<rect x="368.30" y="408.67" width="123.40" height="25.33" fill="#fff" stroke="#000" stroke-width="1.33"/>
<text text-anchor="middle" x="430.00" y="424.66">mrpt/system/os.h</text>
<rect x="515.70" y="408.67" width="147.50" height="25.33" fill="#fff" stroke="#000" stroke-width="1.33"/>
<text text-anchor="middle" x="589.45" y="424.66">mrpt/utils/core_defs.h</text>
<rect x="942.40" y="408.67" width="74.00" height="25.33" fill="#fff" stroke="#bfbfbf" stroke-width="1.33"/>
<text text-anchor="middle" x="979.40" y="424.66">algorithm</text>
<rect x="1041.10" y="408.67" width="70.90" height="25.33" fill="#fff" stroke="#bfbfbf" stroke-width="1.33"/>
<text text-anchor="middle" x="1076.55" y="424.66">iostream</text>
<rect x="1137.30" y="408.67" width="78.50" height="25.33" fill="#fff" stroke="#bfbfbf" stroke-width="1.33"/>
<text text-anchor="middle" x="1176.55" y="424.66">exception</text>
<rect x="1291.70" y="408.67" width="110.70" height="25.33" fill="#fff" stroke="#000" stroke-width="1.33"/>
<text text-anchor="middle" x="1347.05" y="424.66">mrpt/utils/bits.h</text>
<rect x="1529.00" y="408.67" width="65.20" height="25.33" fill="#fff" stroke="#bfbfbf" stroke-width="1.33"/>
<text text-anchor="middle" x="1561.60" y="424.66">cstddef</text>
<rect x="1720.20" y="408.67" width="158.90" height="25.33" fill="#fff" stroke="#000" stroke-width="1.33"/>
<text text-anchor="middle" x="1799.65" y="424.66">mrpt/system/datetime.h</text>
<rect x="2005.60" y="408.67" width="167.70" height="25.33" fill="#fff" stroke="#000" stroke-width="1.33"/>
<text text-anchor="middle" x="2089.45" y="424.66">mrpt/utils/types_simple.h</text>
<rect x="2198.60" y="408.67" width="160.80" height="25.33" fill="#fff" stroke="#000" stroke-width="1.33"/>
<text text-anchor="middle" x="2279.00" y="424.66">mrpt/utils/TTypeName.h</text>
<rect x="2384.70" y="408.67" width="137.40" height="25.33" fill="#fff" stroke="#ff0000" stroke-width="1.33"/>
<text text-anchor="middle" x="2453.40" y="424.66">mrpt/utils/CObject.h</text>
<rect x="2598.70" y="408.67" width="59.50" height="25.33" fill="#fff" stroke="#bfbfbf" stroke-width="1.33"/>
<text text-anchor="middle" x="2628.45" y="424.66">iosfwd</text>
<rect x="2734.10" y="408.67" width="163.90" height="25.33" fill="#fff" stroke="#000" stroke-width="1.33"/>
<text text-anchor="middle" x="2816.05" y="424.66">mrpt/math/math_frwds.h</text>
<rect x="215.80" y="490.67" width="60.10" height="25.33" fill="#fff" stroke="#bfbfbf" stroke-width="1.33"/>
<text text-anchor="middle" x="245.85" y="506.66">cstdlib</text>
<rect x="351.80" y="490.67" width="65.20" height="25.33" fill="#fff" stroke="#bfbfbf" stroke-width="1.33"/>
<text text-anchor="middle" x="384.40" y="506.66">cstdarg</text>
<rect x="543.60" y="483.33" width="129.10" height="40.00" fill="#fff" stroke="#000" stroke-width="1.33"/>
<text x="554.27" y="499.33">mrpt/utils/compiler</text>
<text text-anchor="middle" x="608.15" y="514.00">_fixes.h</text>
<rect x="696.70" y="490.67" width="150.80" height="25.33" fill="#fff" stroke="#000" stroke-width="1.33"/>
<text text-anchor="middle" x="772.10" y="506.66">mrpt/utils/boost_join.h</text>
<rect x="924.00" y="490.67" width="165.80" height="25.33" fill="#fff" stroke="#000" stroke-width="1.33"/>
<text text-anchor="middle" x="1006.90" y="506.66">mrpt/utils/mrpt_macros.h</text>
<rect x="1317.60" y="490.67" width="58.30" height="25.33" fill="#fff" stroke="#bfbfbf" stroke-width="1.33"/>
<text text-anchor="middle" x="1346.75" y="506.66">cmath</text>
<rect x="1716.40" y="490.67" width="155.10" height="25.33" fill="#fff" stroke="#000" stroke-width="1.33"/>
<text text-anchor="middle" x="1793.95" y="506.66">mrpt/utils/mrpt_stdint.h</text>
<rect x="1948.70" y="490.67" width="52.50" height="25.33" fill="#fff" stroke="#bfbfbf" stroke-width="1.33"/>
<text text-anchor="middle" x="1974.95" y="506.66">string</text>
<rect x="2242.30" y="490.67" width="57.60" height="25.33" fill="#fff" stroke="#bfbfbf" stroke-width="1.33"/>
<text text-anchor="middle" x="2271.10" y="506.66">vector</text>
<rect x="2824.60" y="490.67" width="174.70" height="25.33" fill="#fff" stroke="#000" stroke-width="1.33"/>
<text text-anchor="middle" x="2911.95" y="506.66">mrpt/poses/poses_frwds.h</text>
<rect x="953.80" y="580.00" width="171.50" height="25.33" fill="#fff" stroke="#000" stroke-width="1.33"/>
<text text-anchor="middle" x="1039.55" y="596.00">mrpt/base/link_pragmas.h</text>
<rect x="1214.50" y="580.00" width="69.00" height="25.33" fill="#fff" stroke="#bfbfbf" stroke-width="1.33"/>
<text text-anchor="middle" x="1249.00" y="596.00">sstream</text>
<rect x="1801.20" y="580.00" width="72.20" height="25.33" fill="#fff" stroke="#ff0000" stroke-width="1.33"/>
<text text-anchor="middle" x="1837.30" y="596.00">pstdint.h</text>
<rect x="1898.70" y="580.00" width="78.50" height="25.33" fill="#fff" stroke="#bfbfbf" stroke-width="1.33"/>
<text text-anchor="middle" x="1937.95" y="596.00">stdexcept</text>
<rect x="2283.40" y="572.67" width="138.70" height="40.00" fill="#fff" stroke="#000" stroke-width="1.33"/>
<text x="2294.07" y="588.67">mrpt/kinematics/link</text>
<text text-anchor="middle" x="2352.75" y="603.34">_pragmas.h</text>
<rect x="3005.60" y="580.00" width="166.40" height="25.33" fill="#fff" stroke="#000" stroke-width="1.33"/>
<text text-anchor="middle" x="3088.80" y="596.00">mrpt/math/eigen_frwds.h</text>
<rect x="2130.30" y="662.00" width="84.80" height="25.33" fill="#fff" stroke="#bfbfbf" stroke-width="1.33"/>
<text text-anchor="middle" x="2172.70" y="678.00">mrpt/config.h</text>
</svg></body></html>
